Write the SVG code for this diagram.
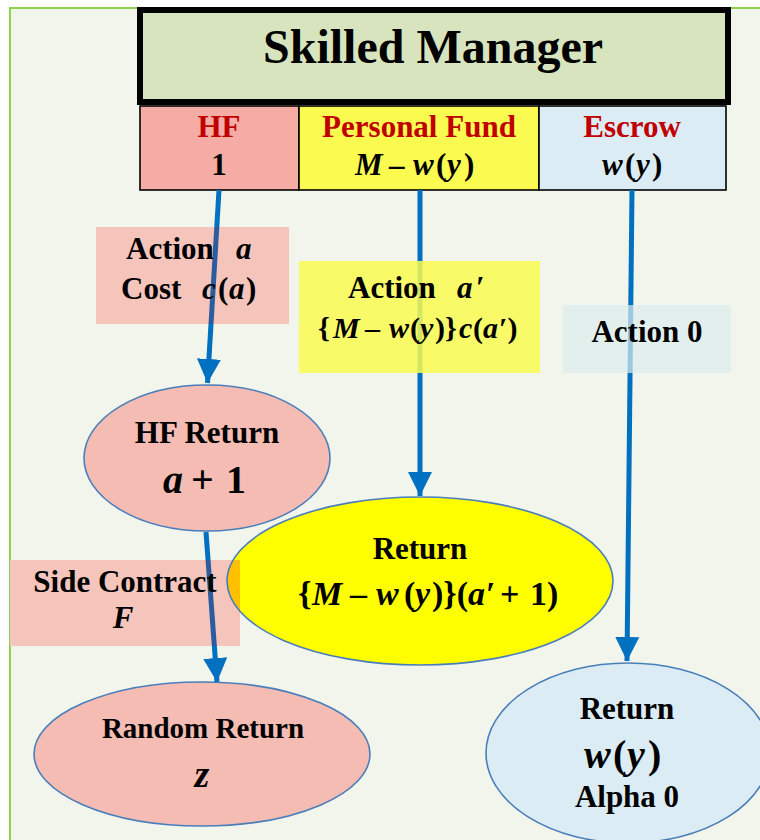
<svg xmlns="http://www.w3.org/2000/svg" width="760" height="840" viewBox="0 0 760 840">
<defs>
<style>
text{font-family:"Liberation Serif","Times New Roman",serif;font-weight:bold;fill:#000;text-anchor:middle}
.st{text-anchor:start}
.red{fill:#C00000}
.i{font-style:italic}
.node{stroke:#4A7EBB;stroke-width:1.6}
.conn{stroke:#0070C0;stroke-width:5;fill:none;marker-end:url(#ah)}
.dk{stroke:#2B5D9E;stroke-width:5;fill:none}
.cell{stroke:#000;stroke-width:1.6}
.pink{fill:#F5C5BB}
</style>
<marker id="ah" viewBox="0 0 10 10" refX="10" refY="5" markerWidth="4.8" markerHeight="5.2" orient="auto" markerUnits="strokeWidth">
<path d="M0,0 L10,5 L0,10 z" fill="#0070C0"/>
</marker>
<clipPath id="clipHF"><rect x="96" y="227" width="193" height="97"/></clipPath>
<clipPath id="clipSide"><rect x="10" y="560" width="230" height="86"/></clipPath>
</defs>
<rect x="0" y="0" width="760" height="840" fill="#FFFFFF"/>
<rect x="10" y="8" width="760" height="850" fill="#F2F5EC" stroke="#92D050" stroke-width="2"/>

<g id="manager">
<rect x="140" y="10" width="588" height="92" fill="#D7E4BD" stroke="#000" stroke-width="6"/>
<text x="433" y="63" font-size="48">Skilled Manager</text>
</g>
<g id="hf">
<rect class="cell" x="140" y="106" width="159" height="84" fill="#F4ACA4"/>
<text class="red" x="219" y="137" font-size="31">HF</text>
<text x="219" y="175" font-size="31">1</text>
</g>
<g id="personal">
<rect class="cell" x="299" y="106" width="240" height="84" fill="#FAFA50"/>
<text class="red" x="419" y="137" font-size="31">Personal Fund</text>
<text class="st" y="175" font-size="31"><tspan class="i" x="355">M</tspan><tspan x="389">–</tspan><tspan class="i" x="413">w</tspan><tspan x="436">(</tspan><tspan class="i" x="447">y</tspan><tspan x="464">)</tspan></text>
</g>
<g id="escrow">
<rect class="cell" x="539" y="106" width="187" height="84" fill="#DBECF4"/>
<text class="red" x="632" y="137" font-size="31">Escrow</text>
<text class="st" y="175" font-size="31"><tspan class="i" x="602">w</tspan><tspan x="625">(</tspan><tspan class="i" x="636">y</tspan><tspan x="652">)</tspan></text>
</g>

<g id="hfreturn">
<ellipse class="node" cx="207" cy="458" rx="123" ry="73" fill="#F4BCB2"/>
<text x="207" y="443" font-size="31">HF Return</text>
<text class="st" y="493" font-size="40"><tspan class="i" x="163">a</tspan><tspan x="191">+</tspan><tspan x="226">1</tspan></text>
</g>
<g id="pfreturn">
<ellipse class="node" cx="420" cy="581" rx="193" ry="84" fill="#FFFF00"/>
<text x="420" y="559" font-size="31">Return</text>
<text class="st" y="605" font-size="34"><tspan x="298">{</tspan><tspan class="i" x="312">M</tspan><tspan x="350">–</tspan><tspan class="i" x="376">w</tspan><tspan x="404">(</tspan><tspan class="i" x="415">y</tspan><tspan x="432">)}(</tspan><tspan class="i" x="468">a</tspan><tspan x="486">′</tspan><tspan x="500">+</tspan><tspan x="530">1)</tspan></text>
</g>
<g id="random">
<ellipse class="node" cx="202" cy="754" rx="168" ry="72" fill="#F4BCB2"/>
<text x="203" y="738" font-size="29">Random Return</text>
<text x="202" y="787" font-size="38" class="i">z</text>
</g>
<g id="escreturn">
<ellipse class="node" cx="628" cy="753" rx="142" ry="90" fill="#DBECF4"/>
<text x="627" y="719" font-size="31">Return</text>
<text class="st" y="768" font-size="40"><tspan class="i" x="584">w</tspan><tspan x="613">(</tspan><tspan class="i" x="627">y</tspan><tspan x="648">)</tspan></text>
<text x="627" y="807" font-size="31">Alpha 0</text>
</g>

<g id="connectors">
<line class="conn" x1="219" y1="190" x2="207.5" y2="383"/>
<line class="conn" x1="420" y1="190" x2="420" y2="496"/>
<line class="conn" x1="632" y1="190" x2="627" y2="661"/>
<line class="conn" x1="206" y1="532" x2="217" y2="682"/>
</g>

<g id="labels">
<g id="lbl-hf">
<rect class="pink" x="96" y="227" width="193" height="97"/>
<line class="dk" x1="219" y1="190" x2="207.5" y2="383" clip-path="url(#clipHF)"/>
<text class="st" y="259" font-size="31"><tspan x="126">Action</tspan><tspan class="i" x="236">a</tspan></text>
<text class="st" y="299" font-size="31"><tspan x="121">Cost</tspan><tspan class="i" x="202">c</tspan><tspan x="218">(</tspan><tspan class="i" x="229">a</tspan><tspan x="246">)</tspan></text>
</g>
<g id="lbl-pf">
<rect x="299" y="261" width="241" height="112" fill="#FAFA50" opacity="0.85"/>
<text class="st" y="298" font-size="31"><tspan x="348">Action</tspan><tspan class="i" x="457">a</tspan><tspan x="476">′</tspan></text>
<text class="st" y="338" font-size="30"><tspan x="318">{</tspan><tspan class="i" x="333">M</tspan><tspan x="365">–</tspan><tspan class="i" x="389">w</tspan><tspan x="410">(</tspan><tspan class="i" x="420">y</tspan><tspan x="435">)}</tspan><tspan class="i" x="459">c</tspan><tspan x="473">(</tspan><tspan class="i" x="483">a</tspan><tspan x="499">′)</tspan></text>
</g>
<g id="lbl-esc">
<rect x="563" y="305" width="168" height="68" fill="#DDEDEE" opacity="0.7"/>
<text x="647" y="342" font-size="31">Action 0</text>
</g>
<g id="lbl-side">
<rect class="pink" x="10" y="560" width="230" height="86"/>
<ellipse cx="420" cy="581" rx="193" ry="84" fill="#FFC000" stroke="#4A7EBB" stroke-width="1.6" clip-path="url(#clipSide)"/>
<line class="dk" x1="206" y1="532" x2="217" y2="682" clip-path="url(#clipSide)"/>
<text x="125" y="592" font-size="31">Side Contract</text>
<text x="123" y="628" font-size="31" class="i">F</text>
</g>
</g>
</svg>
